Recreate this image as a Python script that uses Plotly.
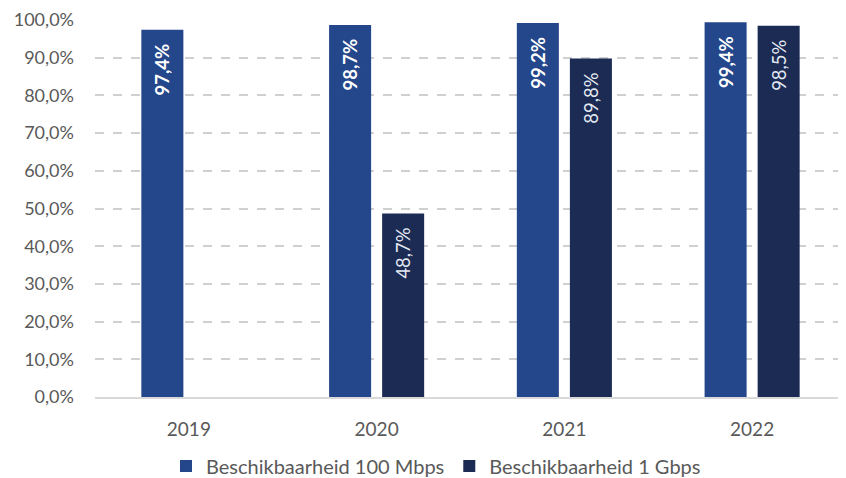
import plotly.graph_objects as go

years = ["2019", "2020", "2021", "2022"]
mbps100 = [97.4, 98.7, 99.2, 99.4]
gbps1 = [None, 48.7, 89.8, 98.5]
series_names = ["Beschikbaarheid 100 Mbps", "Beschikbaarheid 1 Gbps"]
y_ticks = [0, 10, 20, 30, 40, 50, 60, 70, 80, 90, 100]
y_tick_labels = [f"{v},0%" for v in y_ticks]

C1 = "#24468A"
C2 = "#1B2B54"

def fmt(v, col):
    if v is None:
        return ""
    return f"{v:.1f}%".replace(".", ",") + f"<span style='color:{col}'>0</span>"

# the page body has an 8px default margin; compensate so the plot lands where the reference has it
OFF = 8
FONT = "Lato"
fig = go.Figure()
fig.add_trace(go.Bar(
    x=years, y=mbps100, name=series_names[0],
    marker=dict(color=C1, line=dict(width=0)),
    text=[fmt(v, C1) for v in mbps100], textposition="inside",
    textangle=-90, insidetextanchor="end",
    textfont=dict(family=FONT, size=18.5, color="white", weight="bold"),
))
fig.add_trace(go.Bar(
    x=years, y=gbps1, name=series_names[1],
    marker=dict(color=C2, line=dict(width=0)),
    text=[fmt(v, C2) for v in gbps1], textposition="inside",
    textangle=-90, insidetextanchor="end",
    textfont=dict(family=FONT, size=18.5, color="#E4EAF3"),
))
fig.update_layout(
    width=846, height=478,
    margin=dict(l=95 - OFF, r=OFF, t=20 - OFF, b=478 - (397 - OFF), autoexpand=False),
    paper_bgcolor="white", plot_bgcolor="white",
    barmode="group", bargap=0.435, bargroupgap=0.2075,
    font=dict(family=FONT, color="#595959", size=15),
    uniformtext=dict(mode="show", minsize=10),
    legend=dict(orientation="h", x=(436 - OFF) / 846, xref="container", xanchor="center",
                y=1 - (466 - OFF) / 478, yref="container", yanchor="middle",
                font=dict(family=FONT, size=20, color="#595959"),
                itemwidth=30, tracegroupgap=0),
    showlegend=True,
)
fig.update_xaxes(showgrid=False, showline=True, linecolor="#D9D9D9", linewidth=2,
                 ticks="", ticklabelstandoff=14, automargin=False,
                 tickfont=dict(family=FONT, size=19, color="#595959"))
fig.update_yaxes(range=[0, 100], tickvals=y_ticks, ticktext=y_tick_labels,
                 showgrid=True, gridcolor="#D0D0D0", gridwidth=1.5, griddash="dash",
                 zeroline=False, showline=False, ticks="", ticklabelstandoff=20,
                 automargin=False,
                 tickfont=dict(family=FONT, size=18, color="#595959"))
fig.write_html("out.html")
